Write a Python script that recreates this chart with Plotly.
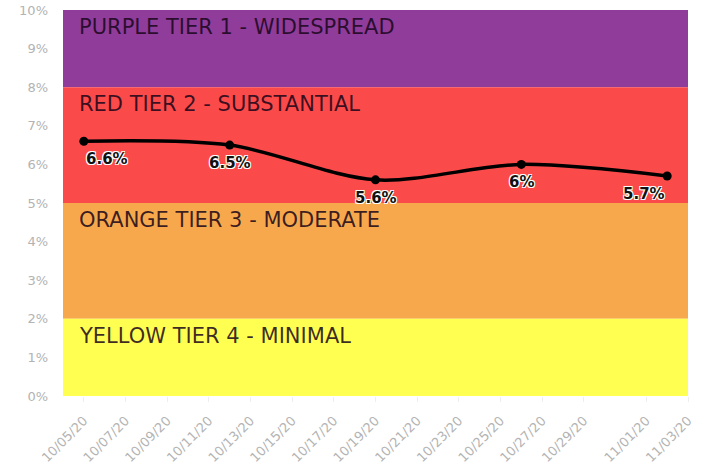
import plotly.graph_objects as go

# Data
dates = ["2020-10-05", "2020-10-12", "2020-10-19", "2020-10-26", "2020-11-02"]
values = [6.6, 6.5, 5.6, 6.0, 5.7]
labels = [f"{v:g}%" for v in values]
label_anchor = ["left", "center", "center", "center", "right"]

tick_dates = ["2020-10-05", "2020-10-07", "2020-10-09", "2020-10-11", "2020-10-13",
              "2020-10-15", "2020-10-17", "2020-10-19", "2020-10-21", "2020-10-23",
              "2020-10-25", "2020-10-27", "2020-10-29", "2020-11-01", "2020-11-03"]
tick_text = ["10/05/20", "10/07/20", "10/09/20", "10/11/20", "10/13/20",
             "10/15/20", "10/17/20", "10/19/20", "10/21/20", "10/23/20",
             "10/25/20", "10/27/20", "10/29/20", "11/01/20", "11/03/20"]

y_ticks = [0, 1, 2, 3, 4, 5, 6, 7, 8, 9, 10]

band_names = ["PURPLE TIER 1 - WIDESPREAD", "RED TIER 2 - SUBSTANTIAL",
              "ORANGE TIER 3 - MODERATE", "YELLOW TIER 4 - MINIMAL"]
band_low = [8, 5, 2, 0]
band_high = [10, 8, 5, 2]
band_colors = ["#8F3C9B", "#FB4A4A", "#F7A84C", "#FFFF52"]

FONT = "DejaVu Sans"
HALO = "1px 1px 0 #fff, -1px -1px 0 #fff, 1px -1px 0 #fff, -1px 1px 0 #fff"

fig = go.Figure()

for name, lo, hi, col in zip(band_names, band_low, band_high, band_colors):
    fig.add_shape(type="rect", xref="paper", yref="y", x0=0, x1=1, y0=lo, y1=hi,
                  fillcolor=col, line_width=0, layer="below")
    fig.add_annotation(xref="paper", yref="y", x=0, y=hi, xanchor="left", yanchor="top",
                       xshift=14, yshift=-3, text=name, showarrow=False,
                       font=dict(family=FONT, size=21, color="rgba(25,5,25,0.85)"))

fig.add_trace(go.Scatter(
    x=dates, y=values, mode="lines+markers",
    line=dict(color="black", width=3.5, shape="spline", smoothing=0.9),
    marker=dict(color="black", size=9),
    hoverinfo="skip", showlegend=False,
))

for d, v, t, a in zip(dates, values, labels, label_anchor):
    fig.add_annotation(x=d, y=v, xref="x", yref="y", text=t, showarrow=False,
                       xanchor=a, yanchor="middle", yshift=-18,
                       font=dict(family=FONT, size=15, color="#111", weight="bold",
                                 shadow=HALO))

fig.update_layout(
    width=709, height=467,
    margin=dict(l=63, r=21, t=10, b=71),
    paper_bgcolor="white", plot_bgcolor="white",
    font=dict(family=FONT),
    xaxis=dict(type="date", range=["2020-10-04", "2020-11-03"],
               tickvals=tick_dates, ticktext=tick_text, tickangle=-45,
               tickfont=dict(size=13, color="#b3b3b3"), showgrid=False,
               zeroline=False, showline=False, ticks="outside", ticklen=5,
               tickcolor="#eeeeee", automargin=False, ticklabelstandoff=6),
    yaxis=dict(range=[0, 10], tickvals=y_ticks, ticktext=[f"{t}%" for t in y_ticks],
               tickfont=dict(size=13, color="#b3b3b3"), showgrid=False,
               zeroline=False, showline=False, ticks="", ticklabelstandoff=14,
               automargin=False),
)

fig.write_html("out.html", config={"displayModeBar": False},
               post_script="document.body.style.margin='0';")
